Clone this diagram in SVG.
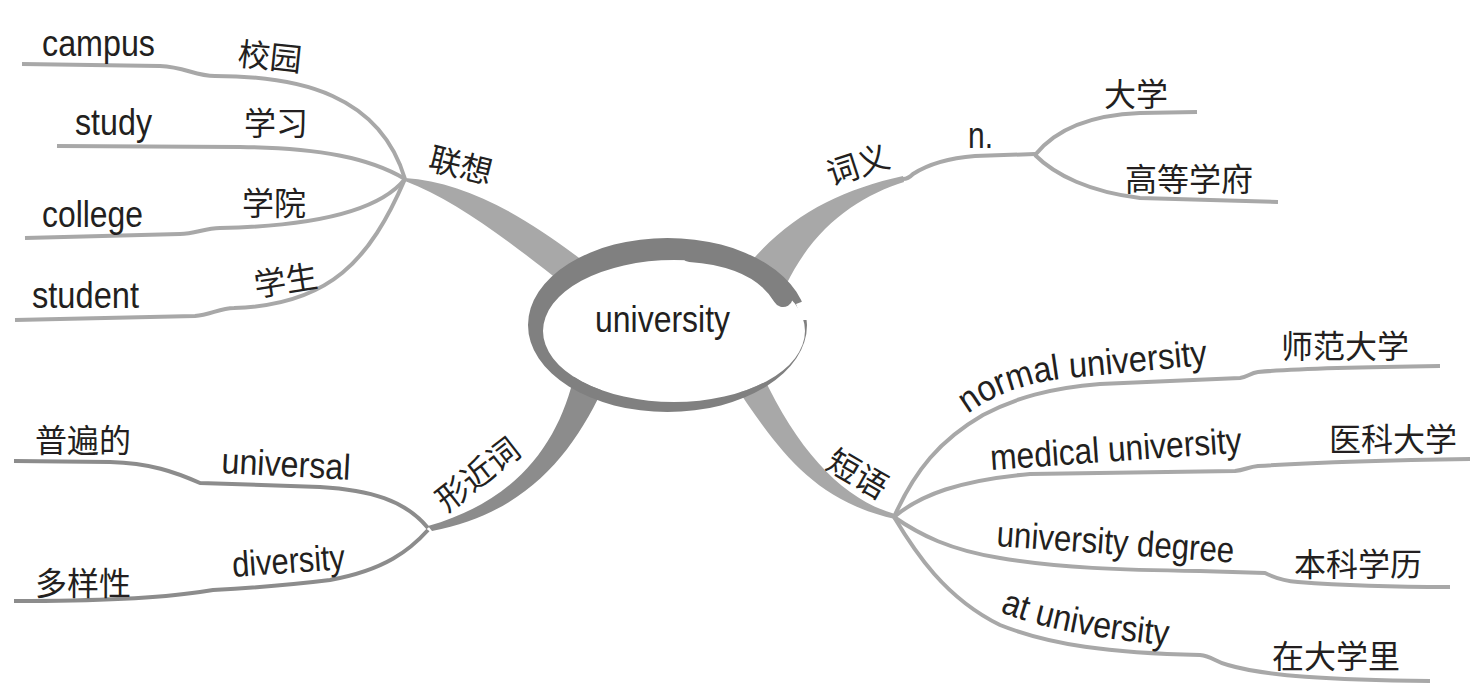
<svg xmlns="http://www.w3.org/2000/svg" width="1473" height="693" viewBox="0 0 1473 693">
<defs>
<style>
.en{font-family:"Liberation Sans",Arial,sans-serif;font-size:36px;fill:#231f20}
.zh{font-family:"Noto Sans CJK SC","Noto Sans",sans-serif;font-size:32px;fill:#231f20}
.l1{fill:none;stroke:#a8a8a8;stroke-width:4;stroke-linejoin:round}
.l2{fill:none;stroke:#8c8c8c;stroke-width:4;stroke-linejoin:round}
.b1{fill:#a8a8a8}
.b2{fill:#8c8c8c}
</style>
<path id="tp-normal" d="M 968 414 Q 1010 382 1080 377 L 1215 364"/>
<path id="tp-at" d="M 1000 612 Q 1060 636 1175 646"/>
</defs>
<rect width="1473" height="693" fill="#fff"/>

<g id="connectors">
  <path class="b1" d="M 405 178 C 465 182 525 215 592 268 L 566 286 C 505 238 455 200 405 181 Z"/>
  <path class="b1" d="M 748 265 C 790 215 840 190 903 176 L 904 182 C 860 196 815 225 786 285 Z"/>
  <path class="b2" d="M 575 372 C 560 440 520 500 428 526 L 432 531 C 530 512 575 450 606 382 Z"/>
  <path class="b1" d="M 730 378 C 775 445 810 500 895 519 L 895 514 C 845 500 800 455 762 374 Z"/>
  <path class="l1" d="M 22 64 L 160 66 C 185 67 195 76 215 76 C 300 76 380 95 405 179"/>
  <path class="l1" d="M 57 146 L 240 147 C 320 148 370 158 405 179"/>
  <path class="l1" d="M 25 238 L 180 234 C 195 234 205 228 220 228 C 320 226 380 210 405 179"/>
  <path class="l1" d="M 15 320 L 195 316 C 210 315 220 308 234 308 C 330 305 370 260 405 179"/>
  <path class="l1" d="M 903 179 Q 908 179 913 174 C 930 163 950 158 975 156 L 1035 154"/>
  <path class="l1" d="M 1035 155 C 1055 130 1090 115 1140 113 L 1197 112"/>
  <path class="l1" d="M 1035 155 C 1055 175 1090 192 1140 198 L 1278 202"/>
  <path class="l2" d="M 14 461 L 110 462 C 150 463 175 472 200 483 L 320 487 C 370 490 405 500 428 528"/>
  <path class="l2" d="M 428 530 C 410 550 385 570 330 580 C 290 585 250 588 213 590 L 200 592 C 160 598 100 601 14 601"/>
  <path class="l1" d="M 894 517 C 915 470 940 440 983 415 C 1015 398 1050 388 1100 384 L 1240 378 C 1248 377 1250 373 1258 372 C 1300 368 1360 367 1440 366"/>
  <path class="l1" d="M 894 517 C 920 495 960 480 1030 474 L 1235 471 C 1245 470 1248 467 1258 466 C 1320 462 1400 460 1470 459"/>
  <path class="l1" d="M 894 517 C 920 535 950 550 1000 558 C 1060 568 1120 570 1200 571 L 1265 573 C 1275 578 1285 581 1298 582 C 1350 586 1400 587 1450 587"/>
  <path class="l1" d="M 894 517 C 915 552 945 598 1000 625 C 1050 645 1110 653 1200 655 C 1212 656 1215 662 1228 665 C 1265 676 1330 680 1430 681"/>
</g>

<g id="node-university">
  <ellipse cx="674" cy="331" rx="131" ry="71" fill="#fff"/>
  <path fill="#808080" fill-rule="evenodd" d="M 528 325 A 139.5 87 0 1 1 807 325 A 139.5 87 0 1 1 528 325 Z M 543 331 A 131 71 0 1 0 805 331 A 131 71 0 1 0 543 331 Z"/>
  <path d="M 796 304 L 812 298 L 812 320 L 802 320 Z" fill="#fff"/>
  <path d="M 690 252 C 730 255 766 268 783 297" fill="none" stroke="#808080" stroke-width="20" stroke-linecap="round"/>
  <text class="en" x="595" y="332" textLength="135" lengthAdjust="spacingAndGlyphs">university</text>
</g>

<g id="node-lianxiang"><text class="zh" x="427" y="169" transform="rotate(14 427 169)">联想</text></g>
<g id="node-campus"><text class="en" x="42" y="56" textLength="113" lengthAdjust="spacingAndGlyphs">campus</text></g>
<g id="node-xiaoyuan"><text class="zh" x="237" y="65" transform="rotate(6 237 65)">校园</text></g>
<g id="node-study"><text class="en" x="75" y="135" textLength="77" lengthAdjust="spacingAndGlyphs">study</text></g>
<g id="node-xuexi"><text class="zh" x="244" y="135">学习</text></g>
<g id="node-college"><text class="en" x="42" y="227" textLength="101" lengthAdjust="spacingAndGlyphs">college</text></g>
<g id="node-xueyuan"><text class="zh" x="242" y="215">学院</text></g>
<g id="node-student"><text class="en" x="32" y="308" textLength="107" lengthAdjust="spacingAndGlyphs">student</text></g>
<g id="node-xuesheng"><text class="zh" x="256" y="297" transform="rotate(-9 256 297)">学生</text></g>

<g id="node-ciyi"><text class="zh" x="831" y="186" transform="rotate(-18 831 186)">词义</text></g>
<g id="node-n"><text class="en" x="968" y="148" textLength="25" lengthAdjust="spacingAndGlyphs">n.</text></g>
<g id="node-daxue"><text class="zh" x="1104" y="106">大学</text></g>
<g id="node-gaodeng"><text class="zh" x="1125" y="191">高等学府</text></g>

<g id="node-xingjinci"><text class="zh" x="447" y="513" transform="rotate(-38 447 513)">形近词</text></g>
<g id="node-universal"><text class="en" x="221" y="473" transform="rotate(3 221 473)" textLength="129" lengthAdjust="spacingAndGlyphs">universal</text></g>
<g id="node-pubian"><text class="zh" x="35" y="452">普遍的</text></g>
<g id="node-diversity"><text class="en" x="233" y="577" transform="rotate(-4 233 577)" textLength="113" lengthAdjust="spacingAndGlyphs">diversity</text></g>
<g id="node-duoyang"><text class="zh" x="35" y="595">多样性</text></g>

<g id="node-duanyu"><text class="zh" x="824" y="468" transform="rotate(30 824 468)">短语</text></g>
<g id="node-normal"><text class="en"><textPath href="#tp-normal" textLength="248" lengthAdjust="spacingAndGlyphs">normal university</textPath></text></g>
<g id="node-shifan"><text class="zh" x="1281" y="358">师范大学</text></g>
<g id="node-medical"><text class="en" x="991" y="470" transform="rotate(-4 991 470)" textLength="252" lengthAdjust="spacingAndGlyphs">medical university</text></g>
<g id="node-yike"><text class="zh" x="1329" y="451">医科大学</text></g>
<g id="node-degree"><text class="en" x="996" y="546" transform="rotate(4 996 546)" textLength="238" lengthAdjust="spacingAndGlyphs">university degree</text></g>
<g id="node-benke"><text class="zh" x="1294" y="576">本科学历</text></g>
<g id="node-at"><text class="en"><textPath href="#tp-at" textLength="172" lengthAdjust="spacingAndGlyphs">at university</textPath></text></g>
<g id="node-zaidaxue"><text class="zh" x="1272" y="668">在大学里</text></g>
</svg>
